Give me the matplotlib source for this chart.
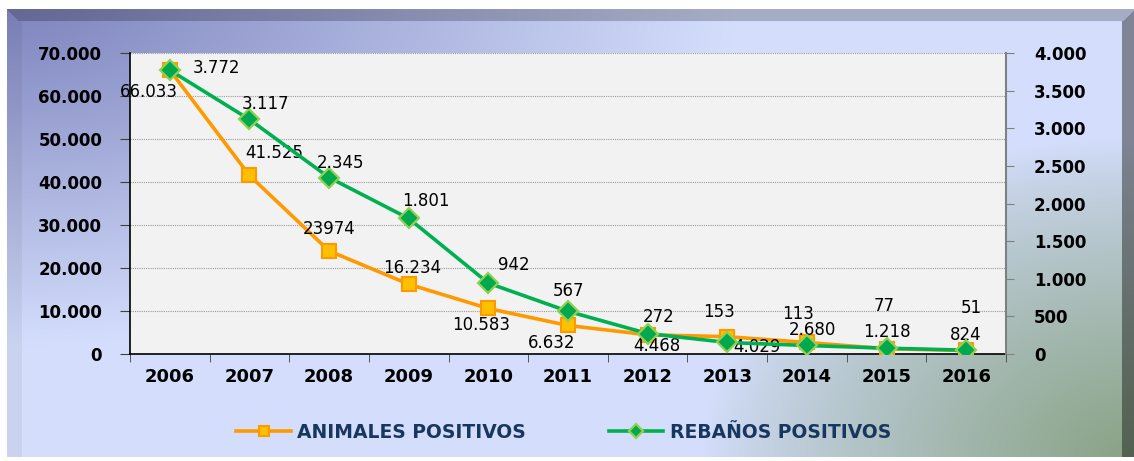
import numpy as np
import matplotlib
matplotlib.use('Agg')
import matplotlib.pyplot as plt
from matplotlib.ticker import FixedLocator

# ---------------- data ----------------
years = ['2006', '2007', '2008', '2009', '2010', '2011', '2012', '2013', '2014', '2015', '2016']
animales = [66033, 41525, 23974, 16234, 10583, 6632, 4468, 4029, 2680, 1218, 824]
rebanos = [3772, 3117, 2345, 1801, 942, 567, 272, 153, 113, 77, 51]
animales_labels = ['66.033', '41.525', '23974', '16.234', '10.583', '6.632',
                   '4.468', '4.029', '2.680', '1.218', '824']
rebanos_labels = ['3.772', '3.117', '2.345', '1.801', '942', '567',
                  '272', '153', '113', '77', '51']
left_ticks = [0, 10000, 20000, 30000, 40000, 50000, 60000, 70000]
left_tick_labels = ['0', '10.000', '20.000', '30.000', '40.000', '50.000', '60.000', '70.000']
right_ticks = [0, 500, 1000, 1500, 2000, 2500, 3000, 3500, 4000]
right_tick_labels = ['0', '500', '1.000', '1.500', '2.000', '2.500', '3.000', '3.500', '4.000']
series_names = ['ANIMALES POSITIVOS', 'REBAÑOS POSITIVOS']

# label offsets in pixels (dx, dy up)
anim_off = [(-21, -22), (25, 22), (0, 22), (3, 16), (-7, -17), (-16, -18),
            (9, -11), (30, -10), (6, 12), (0, 17), (0, 15)]
reb_off = [(47, 2), (16, 15), (11, 15), (17, 17), (25, 18), (0, 20),
           (11, 17), (-8, 30), (-9, 31), (-2, 42), (5, 42)]

W, H = 1134, 461
fig = plt.figure(figsize=(W / 100, H / 100), dpi=100)
fig.patch.set_facecolor('white')

# ---------------- background gradient frame ----------------
yy, xx = np.mgrid[0:H, 0:W].astype(float)
u = xx / W
v = yy / H
L = np.array([0xd4, 0xde, 0xfc]) / 255.0
P = np.array([0x7c, 0x82, 0xbc]) / 255.0
G = np.array([0x88, 0xa2, 0x84]) / 255.0
dp = np.sqrt((u / 0.65) ** 2 + (v / 0.75) ** 2)
wp = np.clip(1 - dp, 0, 1)
dg = np.sqrt(((1 - u) / 0.38) ** 2 + ((1 - v) / 0.7) ** 2)
wg = np.clip(1 - dg, 0, 1) ** 0.8
img = L[None, None, :] * (1 - wp - wg)[..., None] + P * wp[..., None] + G * wg[..., None]
img = np.clip(img, 0, 1)

x0, y0, x1, y1 = 7, 10, 1134, 457
frame = (xx >= x0) & (xx < x1) & (yy >= y0) & (yy < y1)
top = frame & (yy < y0 + 12) & (xx - x0 >= (yy - y0)) & (x1 - xx >= (yy - y0))
right = frame & (xx >= 1122) & ~top
left = frame & (xx < x0 + 15) & ~top
shade = np.ones((H, W))
shade[top] = 0.78
shade[right] = 0.6
shade[left] = 0.95
img = img * shade[..., None]
rgba = np.ones((H, W, 4))
rgba[..., :3] = img
rgba[~frame, :3] = 1.0

bg = fig.add_axes([0, 0, 1, 1])
bg.imshow(rgba, extent=[0, W, H, 0], aspect='auto', interpolation='bilinear')
bg.set_xlim(0, W)
bg.set_ylim(H, 0)
bg.axis('off')
bg.set_zorder(-5)

# ---------------- main axes ----------------
axl, axr, axt, axb = 130, 1006, 53, 354
ax = fig.add_axes([axl / W, 1 - axb / H, (axr - axl) / W, (axb - axt) / H])
ax.set_facecolor('#f2f2f2')
x = np.arange(len(years))
ax.set_xlim(-0.5, len(years) - 0.5)
ax.set_ylim(0, 70000)

ax.plot(x, animales, color='#ff9900', lw=2.6, marker='s', ms=10,
        mfc='#ffc000', mec='#ff9900', mew=1.5, zorder=3, label=series_names[0])

ax.yaxis.set_major_locator(FixedLocator(left_ticks))
ax.set_yticklabels(left_tick_labels, fontsize=12, fontweight='bold', family='DejaVu Sans')
ax.set_xticks(x)
ax.set_xticklabels(years, fontsize=13, fontweight='bold', family='DejaVu Sans')
ax.set_xticks(np.arange(-0.5, len(years), 1.0), minor=True)
ax.tick_params(axis='x', which='major', length=0, pad=10)
ax.tick_params(axis='x', which='minor', length=6, color='#404040', direction='out')
ax.tick_params(axis='y', length=7, color='#404040', pad=13)
ax.grid(axis='y', color='#9a9a9a', ls=(0, (1, 1)), lw=0.8)
ax.set_axisbelow(True)
for s in ['top', 'right']:
    ax.spines[s].set_visible(False)
ax.spines['left'].set_color('black')
ax.spines['bottom'].set_color('black')
ax.spines['left'].set_linewidth(1.2)
ax.spines['bottom'].set_linewidth(1.2)

for xi, yi, t, (dx, dy) in zip(x, animales, animales_labels, anim_off):
    ax.annotate(t, (xi, yi), xytext=(dx, dy), textcoords='offset pixels',
                ha='center', va='center', fontsize=12, color='black', zorder=5)

ax2 = ax.twinx()
ax2.set_ylim(0, 4000)
ax2.plot(x, rebanos, color='#00b050', lw=2.6, marker='D', ms=10,
         mfc='#00a84e', mec='#92d050', mew=1.6, zorder=3, label=series_names[1])
ax2.yaxis.set_major_locator(FixedLocator(right_ticks))
ax2.set_yticklabels(right_tick_labels, fontsize=12, fontweight='bold', family='DejaVu Sans')
ax2.tick_params(axis='y', length=6, color='#808080', pad=14)
for s in ['top', 'left', 'bottom']:
    ax2.spines[s].set_visible(False)
ax2.spines['right'].set_color('#808080')
ax2.spines['right'].set_linewidth(1.5)

for xi, yi, t, (dx, dy) in zip(x, rebanos, rebanos_labels, reb_off):
    ax2.annotate(t, (xi, yi), xytext=(dx, dy), textcoords='offset pixels',
                 ha='center', va='center', fontsize=12, color='black', zorder=5)

h1, l1 = ax.get_legend_handles_labels()
h2, l2 = ax2.get_legend_handles_labels()
leg = fig.legend(h1 + h2, l1 + l2, loc='center', bbox_to_anchor=(0.497, 1 - 432 / H),
                 ncol=2, frameon=False, handlelength=2.9, handletextpad=0.35,
                 columnspacing=4.4, markerscale=0.75,
                 prop={'family': 'DejaVu Sans', 'weight': 'bold', 'size': 13.5})
for t in leg.get_texts():
    t.set_color('#17375e')

fig.savefig('out.png', dpi=100)
